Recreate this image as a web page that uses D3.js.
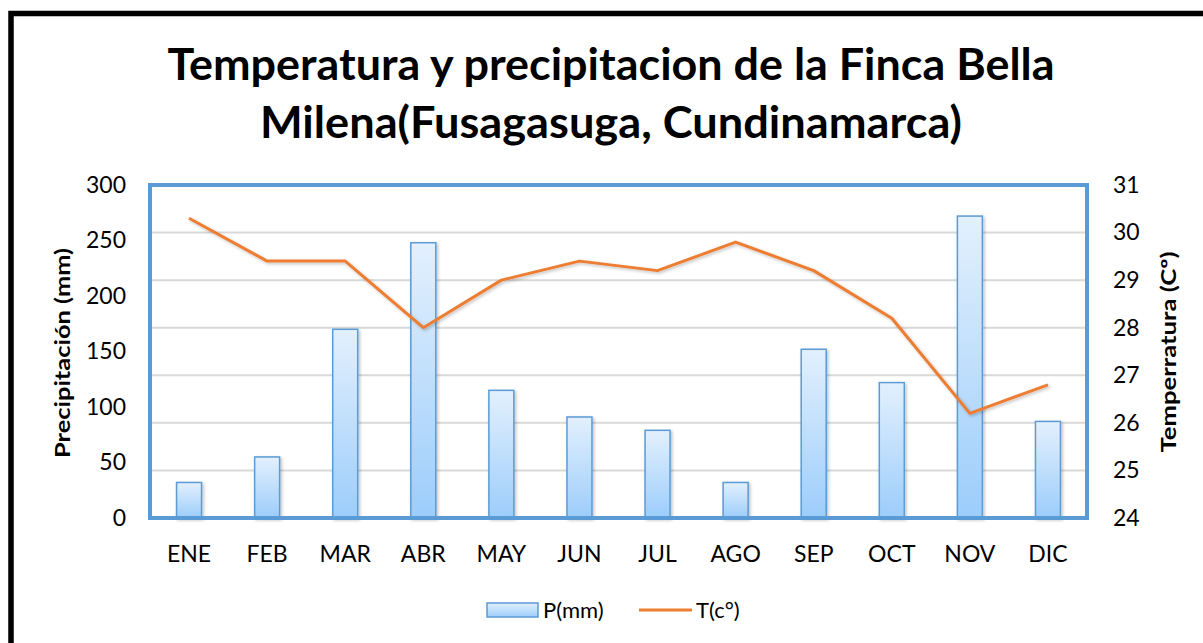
<!DOCTYPE html>
<html>
<head>
<meta charset="utf-8">
<script src="https://cdn.jsdelivr.net/npm/d3@7"></script>
<style>
  html, body { margin: 0; padding: 0; background: #fff; }
  svg { display: block; font-family: Lato, "Open Sans", sans-serif; }
</style>
</head>
<body>
<svg id="chart" width="1203" height="643"></svg>
<script>
// datos
const meses = ["ENE", "FEB", "MAR", "ABR", "MAY", "JUN", "JUL", "AGO", "SEP", "OCT", "NOV", "DIC"];
const precipitacion = [32, 55, 170, 248, 115, 91, 79, 32, 152, 122, 272, 87];
const temperatura = [30.3, 29.4, 29.4, 28.0, 29.0, 29.4, 29.2, 29.8, 29.2, 28.2, 26.2, 26.8];
const ticksPrecip = [0, 50, 100, 150, 200, 250, 300];
const ticksTemp = [24, 25, 26, 27, 28, 29, 30, 31];
const titulo = ["Temperatura y precipitacion de la Finca Bella", "Milena(Fusagasuga, Cundinamarca)"];

const width = 1203, height = 643;
const plot = {left: 150, right: 1087, top: 185, bottom: 518};

const svg = d3.select("#chart");

const defs = svg.append("defs");
const grad = defs.append("linearGradient")
  .attr("id", "barra").attr("x1", 0).attr("y1", 0).attr("x2", 0).attr("y2", 1);
grad.append("stop").attr("offset", "0%").attr("stop-color", "#e3f0fd");
grad.append("stop").attr("offset", "100%").attr("stop-color", "#9ccdfb");

const sombra = defs.append("filter").attr("id", "sombra")
  .attr("x", "-20%").attr("y", "-20%").attr("width", "140%").attr("height", "140%");
sombra.append("feDropShadow").attr("dx", 1.5).attr("dy", 1.5).attr("stdDeviation", 1.5)
  .attr("flood-color", "#000").attr("flood-opacity", 0.25);

// marco exterior (solo se ve arriba y a la izquierda)
svg.append("rect")
  .attr("x", 11).attr("y", 13.5).attr("width", width + 20).attr("height", height + 20)
  .attr("fill", "none").attr("stroke", "#000").attr("stroke-width", 5.5);

// titulo
svg.append("g").selectAll("text")
  .data(titulo)
  .join("text")
  .attr("x", 611)
  .attr("y", (d, i) => 80 + i * 58)
  .attr("text-anchor", "middle")
  .attr("font-size", 43)
  .attr("font-weight", "bold")
  .attr("fill", "#000")
  .attr("textLength", (d, i) => i === 0 ? 887 : 702)
  .attr("lengthAdjust", "spacingAndGlyphs")
  .text(d => d);

const x = d3.scaleBand()
  .domain(meses)
  .range([plot.left, plot.right])
  .paddingInner(0.68)
  .paddingOuter(0.34);

const yP = d3.scaleLinear().domain([0, 300]).range([plot.bottom, plot.top]);
const yT = d3.scaleLinear().domain([24, 31]).range([plot.bottom, plot.top]);

// cuadricula (sigue el eje de temperatura)
svg.append("g")
  .selectAll("line")
  .data(ticksTemp.slice(1, -1))
  .join("line")
  .attr("x1", plot.left).attr("x2", plot.right)
  .attr("y1", d => yT(d)).attr("y2", d => yT(d))
  .attr("stroke", "#d9d9d9").attr("stroke-width", 2);

// barras
svg.append("g")
  .selectAll("rect")
  .data(precipitacion)
  .join("rect")
  .attr("x", (d, i) => x(meses[i]))
  .attr("y", d => yP(d))
  .attr("width", x.bandwidth())
  .attr("height", d => yP(0) - yP(d))
  .attr("fill", "url(#barra)")
  .attr("stroke", "#5b9bd5")
  .attr("stroke-width", 1.5)
  .attr("filter", "url(#sombra)");

// linea de temperatura
const linea = d3.line()
  .x((d, i) => x(meses[i]) + x.bandwidth() / 2)
  .y(d => yT(d));

svg.append("path")
  .datum(temperatura)
  .attr("d", linea)
  .attr("fill", "none")
  .attr("stroke", "#ed7d31")
  .attr("stroke-width", 3)
  .attr("stroke-linejoin", "round")
  .attr("filter", "url(#sombra)");

// marco del area de grafico
svg.append("rect")
  .attr("x", plot.left).attr("y", plot.top)
  .attr("width", plot.right - plot.left).attr("height", plot.bottom - plot.top)
  .attr("fill", "none").attr("stroke", "#5b9bd5").attr("stroke-width", 4);

// ejes
const gLeft = svg.append("g")
  .attr("transform", `translate(${plot.left - 20},0)`)
  .call(d3.axisLeft(yP).tickValues(ticksPrecip).tickSize(0).tickPadding(4));
const gRight = svg.append("g")
  .attr("transform", `translate(${plot.right + 22},0)`)
  .call(d3.axisRight(yT).tickValues(ticksTemp).tickFormat(d3.format("d")).tickSize(0).tickPadding(4));
const gBottom = svg.append("g")
  .attr("transform", `translate(0,${plot.bottom + 24})`)
  .call(d3.axisBottom(x).tickSize(0).tickPadding(4));

[gLeft, gRight, gBottom].forEach(g => {
  g.select(".domain").remove();
  g.selectAll("text")
    .attr("font-family", "Lato, 'Open Sans', sans-serif")
    .attr("font-size", 23)
    .attr("fill", "#000");
});

// titulos de ejes
svg.append("text")
  .attr("transform", "translate(70,353) rotate(-90)")
  .attr("text-anchor", "middle")
  .attr("font-size", 21).attr("font-weight", "bold")
  .attr("textLength", 210).attr("lengthAdjust", "spacingAndGlyphs")
  .text("Precipitación (mm)");

svg.append("text")
  .attr("transform", "translate(1176,352) rotate(-90)")
  .attr("text-anchor", "middle")
  .attr("font-size", 21).attr("font-weight", "bold")
  .attr("textLength", 201).attr("lengthAdjust", "spacingAndGlyphs")
  .text("Temperratura (Cº)");

// leyenda
const ley = svg.append("g").attr("font-size", 22);
ley.append("rect")
  .attr("x", 487).attr("y", 603).attr("width", 51).attr("height", 14)
  .attr("fill", "url(#barra)").attr("stroke", "#5b9bd5").attr("stroke-width", 1.5);
ley.append("text").attr("x", 543).attr("y", 618).text("P(mm)");
ley.append("line")
  .attr("x1", 639).attr("x2", 692).attr("y1", 610).attr("y2", 610)
  .attr("stroke", "#ed7d31").attr("stroke-width", 3);
ley.append("text").attr("x", 696).attr("y", 618).text("T(c°)");
</script>
</body>
</html>
